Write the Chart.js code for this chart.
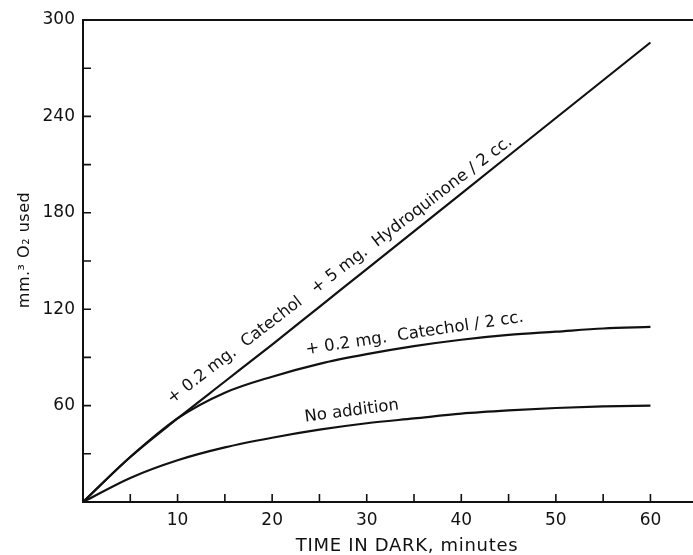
<!DOCTYPE html>
<html>
<head>
<meta charset="utf-8">
<script src="https://cdn.jsdelivr.net/npm/chart.js@4.4.1/dist/chart.umd.min.js"></script>
<style>
  html, body { margin: 0; padding: 0; background: #fff; }
  #wrap { width: 693px; height: 555px; }
</style>
</head>
<body>
<div id="wrap"><canvas id="o2Chart"></canvas></div>
<script>
// time in dark, minutes
const minutes = [0, 5, 10, 15, 20, 25, 30, 35, 40, 45, 50, 55, 60]
// mm.3 O2 used
const noAddition = [0, 15, 26, 34, 40, 45, 49, 52, 55, 57, 58.5, 59.5, 60]
const catechol = [0, 28, 52, 68, 78, 86, 92, 97, 101, 104, 106, 108, 109]
const catecholHydroquinone = [0, 28, 52, 75, 98, 121.5, 145, 168.5, 192, 215.5, 239, 262.5, 286]

const xTickLabels = [10, 20, 30, 40, 50, 60]
const yTicks = [0, 30, 60, 90, 120, 150, 180, 210, 240, 270, 300]
const yTickLabels = [60, 120, 180, 240, 300]

const curveLabels = [
  { text: '+ 0.2 mg.  Catechol   + 5 mg.  Hydroquinone / 2 cc.', x: 9.4, y: 61, angle: -37.4 },
  { text: '+ 0.2 mg.  Catechol / 2 cc.', x: 23.6, y: 92, angle: -8.5 },
  { text: 'No addition', x: 23.5, y: 50, angle: -7.4 },
]

const FONT = "'DejaVu Sans', sans-serif"
const INK = '#111'

function series(values) {
  return minutes.map((m, i) => ({ x: m, y: values[i] }))
}

function lineStyle(values) {
  return {
    data: series(values),
    borderColor: INK,
    borderWidth: 2.2,
    pointRadius: 0,
    fill: false,
    cubicInterpolationMode: 'monotone',
  }
}

// frame, inward tick marks, curve captions and axis titles
const paperPlugin = {
  id: 'paper',
  afterDraw(chart) {
    const { ctx, chartArea, scales } = chart
    const xs = scales.x
    const ys = scales.y
    ctx.save()
    ctx.strokeStyle = INK
    ctx.lineWidth = 2
    ctx.beginPath()
    ctx.moveTo(chart.width, chartArea.top)
    ctx.lineTo(chartArea.left, chartArea.top)
    ctx.lineTo(chartArea.left, chartArea.bottom)
    ctx.lineTo(chart.width, chartArea.bottom)
    ctx.stroke()

    ctx.lineWidth = 1.6
    ctx.beginPath()
    xs.ticks.forEach((t) => {
      if (t.value <= 0) return
      const px = xs.getPixelForValue(t.value)
      ctx.moveTo(px, chartArea.bottom)
      ctx.lineTo(px, chartArea.bottom - 8)
    })
    ys.ticks.forEach((t) => {
      if (t.value <= 0 || t.value >= 300) return
      const py = ys.getPixelForValue(t.value)
      ctx.moveTo(chartArea.left, py)
      ctx.lineTo(chartArea.left + 8, py)
    })
    ctx.stroke()

    ctx.fillStyle = INK
    ctx.font = '16.5px ' + FONT
    ctx.textBaseline = 'alphabetic'
    ctx.textAlign = 'left'
    curveLabels.forEach((lbl) => {
      ctx.save()
      ctx.translate(xs.getPixelForValue(lbl.x), ys.getPixelForValue(lbl.y))
      ctx.rotate((lbl.angle * Math.PI) / 180)
      ctx.fillText(lbl.text, 0, 0)
      ctx.restore()
    })

    ctx.font = '18px ' + FONT
    ctx.letterSpacing = '0.7px'
    ctx.textAlign = 'center'
    ctx.textBaseline = 'middle'
    ctx.fillText('TIME IN DARK, minutes', 407, 546)

    ctx.save()
    ctx.translate(25, 250)
    ctx.rotate(-Math.PI / 2)
    ctx.font = '16px ' + FONT
    ctx.letterSpacing = '0.5px'
    ctx.fillText('mm.\u00B3 O\u2082 used', 0, 0)
    ctx.restore()
    ctx.restore()
  },
}

const ctx = document.getElementById('o2Chart').getContext('2d')
new Chart(ctx, {
  type: 'line',
  data: {
    datasets: [
      lineStyle(catecholHydroquinone),
      lineStyle(catechol),
      lineStyle(noAddition),
    ],
  },
  options: {
    responsive: true,
    maintainAspectRatio: false,
    animation: false,
    layout: { padding: { top: 20, right: 0, left: 0, bottom: 0 } },
    plugins: { legend: { display: false }, tooltip: { enabled: false } },
    scales: {
      x: {
        type: 'linear',
        min: 0,
        max: 64.5,
        afterBuildTicks: (scale) => { scale.ticks = minutes.map((v) => ({ value: v })) },
        afterFit: (scale) => { scale.height = 53; scale.paddingRight = 0 },
        grid: { display: false, drawTicks: false },
        border: { display: false },
        ticks: {
          autoSkip: false,
          maxRotation: 0,
          padding: 8,
          color: INK,
          font: { family: FONT, size: 17 },
          callback: (v) => (xTickLabels.includes(v) ? String(v) : ''),
        },
      },
      y: {
        min: 0,
        max: 300,
        afterBuildTicks: (scale) => { scale.ticks = yTicks.map((v) => ({ value: v })) },
        afterFit: (scale) => { scale.width = 83 },
        grid: { display: false, drawTicks: false },
        border: { display: false },
        ticks: {
          autoSkip: false,
          padding: 8,
          color: INK,
          font: { family: FONT, size: 17 },
          callback: (v) => (yTickLabels.includes(v) ? String(v) : ''),
        },
      },
    },
  },
  plugins: [paperPlugin],
})
</script>
</body>
</html>
